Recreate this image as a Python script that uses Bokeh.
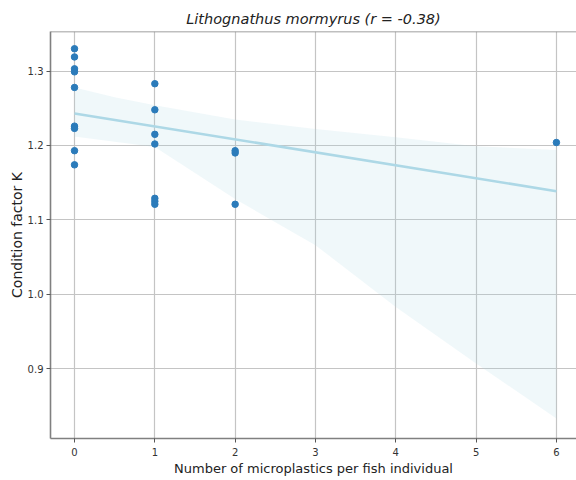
from bokeh.plotting import figure
from bokeh.models import Span, Range1d, FixedTicker, ColumnDataSource, PrintfTickFormatter
from bokeh.embed import file_html
from bokeh.resources import INLINE

# ---- data ----
mp_count = [0, 0, 0, 0, 0, 0, 0, 0, 0,
            1, 1, 1, 1, 1, 1, 1,
            2, 2, 2,
            6]
condition_k = [1.330, 1.319, 1.303, 1.299, 1.278, 1.226, 1.223, 1.193, 1.174,
               1.283, 1.248, 1.215, 1.202, 1.129, 1.125, 1.121,
               1.193, 1.190, 1.121,
               1.204]

# regression line (as drawn in the reference)
fit_x = [0, 6]
fit_y = [1.243, 1.1386]

# bootstrapped 95% confidence band
band_x = [0, 0.5, 1, 2, 3, 4, 5, 6]
band_upper = [1.278, 1.265, 1.254, 1.235, 1.222, 1.211, 1.199, 1.194]
band_lower = [1.212, 1.205, 1.198, 1.128, 1.066, 0.983, 0.907, 0.833]

x_ticks = [0, 1, 2, 3, 4, 5, 6]
y_ticks = [0.9, 1.0, 1.1, 1.2, 1.3]

title_text = "Lithognathus mormyrus (r = -0.38)"
x_label = "Number of microplastics per fish individual"
y_label = "Condition factor K"

FONT = "DejaVu Sans"
Y_TOP = 1.3532
Y_BOTTOM = 0.8062

p = figure(width=576, height=480, output_backend="svg", toolbar_location=None,
           x_range=Range1d(-0.299, 6.25), y_range=Range1d(Y_BOTTOM, Y_TOP),
           min_border_left=50, min_border_right=0, min_border_top=31, min_border_bottom=42)

p.background_fill_color = "white"
p.border_fill_color = "white"
p.outline_line_color = None

# grid
p.xgrid.ticker = FixedTicker(ticks=x_ticks)
p.ygrid.ticker = FixedTicker(ticks=y_ticks)
for g in (p.xgrid, p.ygrid):
    g.grid_line_color = "#c4c4c4"
    g.grid_line_width = 1.2

# band
p.varea(x=band_x, y1=band_lower, y2=band_upper, fill_color="#add8e6", fill_alpha=0.18)
# regression line
p.line(x=fit_x, y=fit_y, line_color="#add8e6", line_width=2.6)
# points
src = ColumnDataSource(dict(x=mp_count, y=condition_k))
p.scatter(x="x", y="y", source=src, size=6.5, fill_color="#2b7bba", line_color="#2b7bba")

# top spine
p.add_layout(Span(location=Y_TOP, dimension="width", line_color="#808080", line_width=1.6))

# axes
for ax in (p.xaxis, p.yaxis):
    ax.axis_line_color = "#808080"
    ax.axis_line_width = 1.6
    ax.major_tick_line_color = "#555555"
    ax.major_tick_out = 4
    ax.major_tick_in = 0
    ax.minor_tick_line_color = None
    ax.major_label_text_font = FONT
    ax.major_label_text_font_size = "10px"
    ax.major_label_text_color = "#333333"
    ax.axis_label_text_font = FONT
    ax.axis_label_text_font_style = "normal"
    ax.axis_label_text_color = "#222222"

p.xaxis.ticker = FixedTicker(ticks=x_ticks)
p.yaxis.ticker = FixedTicker(ticks=y_ticks)
p.yaxis.formatter = PrintfTickFormatter(format="%.1f")
p.xaxis.axis_label = x_label
p.yaxis.axis_label = y_label
p.xaxis.axis_label_text_font_size = "13px"
p.yaxis.axis_label_text_font_size = "14px"
p.xaxis.axis_label_standoff = 2
p.yaxis.axis_label_standoff = 0
p.xaxis.major_label_standoff = 5
p.yaxis.major_label_standoff = 3

p.title.text = title_text
p.title.text_font = FONT
p.title.text_font_style = "italic"
p.title.text_font_size = "14.5px"
p.title.text_color = "#222222"
p.title.align = "center"

open("out.html", "w").write(file_html(p, INLINE))
